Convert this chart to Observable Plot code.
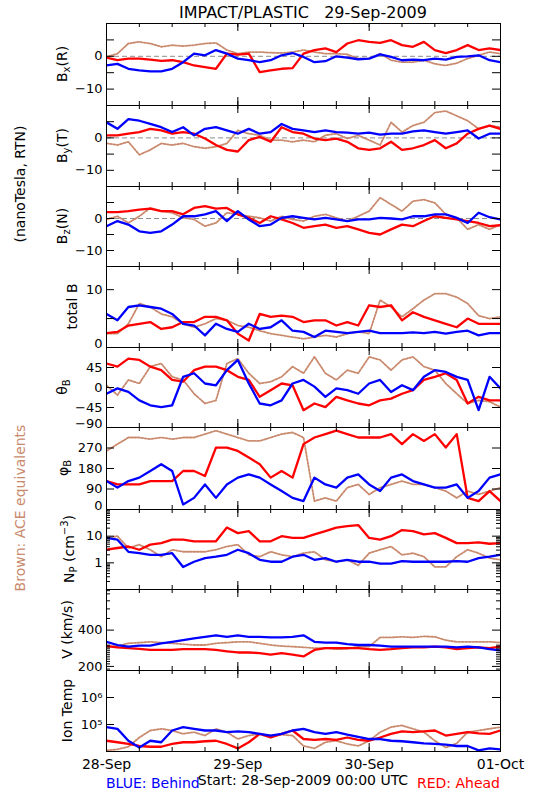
<!DOCTYPE html>
<html><head><meta charset="utf-8">
<script src="https://cdn.jsdelivr.net/npm/d3@7"></script>
<script src="https://cdn.jsdelivr.net/npm/@observablehq/plot@0.6"></script>
<style>
body{margin:0;background:#fff;}
#chart{position:relative;width:550px;height:800px;font-family:"DejaVu Sans",sans-serif;background:#fff;overflow:hidden;}
#chart .pnl{position:absolute;left:0;}
#overlay{position:absolute;left:0;top:0;pointer-events:none;}
</style>
</head><body><div id="chart"></div>
<script>
// ---- time grid (hours since 28-Sep-2009 00:00 UTC) ----
const hours = [0,2,4,6,8,10,12,14,16,18,20,22,24,26,28,30,32,34,36,38,40,42,44,46,48,50,52,54,56,58,60,62,64,66,68,70,72];

// ---- Bx (R), nT ----
const bxBlue  = [-2.8,-2.3,-3.8,-4.3,-4.6,-4.6,-3.8,-1.8,0.8,0.3,1.9,0.8,-0.7,-1.2,-1.8,-1.2,0.3,1.0,-0.2,-1.8,-1.5,0,-0.4,-0.9,-0.7,0.6,-0.2,-1.2,-1.0,-1.2,-0.7,-1.0,-0.2,0,0.3,-1.2,-1.8];
const bxRed   = [-0.4,-1.2,-0.7,-0.7,-1.0,-1.4,-1.2,-1.8,-2.8,-3.3,-3.8,0.8,0.5,0.8,-4.8,-4.3,-3.8,-3.6,0.8,1.9,2.4,1.3,3.9,4.9,4.4,4.1,4.9,3.4,2.9,4.4,1.9,1.0,1.9,3.4,1.9,2.4,1.9];
const bxBrown = [-0.2,0.8,3.9,4.4,3.9,2.9,3.4,3.1,3.4,3.9,4.1,1.9,0.8,1.3,1.3,1.1,1.0,1.3,1.9,1.3,0.8,0.8,0.6,-0.7,-0.7,0.8,-1.2,-1.8,-1.8,-1.2,-2.3,-2.8,-2.1,-0.7,0.3,1.3,0.8];
// ---- By (T) ----
const byBlue  = [4.8,2.8,5.8,5.3,4.3,3.3,1.8,3.3,0.8,2.8,3.3,2.3,1.3,2.8,1.3,1.8,4.3,2.8,2.3,1.8,2.3,1.8,1.6,1.3,1.6,1.0,1.3,1.3,2.0,2.3,1.8,1.3,1.8,2.3,-0.2,1.3,1.3];
const byRed   = [0.8,0.8,1.3,1.8,2.8,2.3,1.3,1.8,1.3,-0.2,-2.2,-3.7,-4.2,-0.7,0.3,-1.2,3.3,1.8,1.3,-0.2,-0.7,-0.2,-1.2,-3.2,-3.7,-3.2,-1.2,-3.7,-3.2,-2.2,-0.7,-3.2,-1.7,1.3,2.8,3.8,2.8];
const byBrown = [-1.7,-2.2,-1.2,-5.2,-3.7,-1.7,-2.2,-1.7,-2.7,-3.2,-2.7,-1.7,2.3,1.3,0.8,-0.7,-0.7,-1.2,-0.7,-1.2,0.8,1.3,-0.2,0.8,-0.7,-2.2,4.8,1.8,3.8,4.8,7.8,8.3,6.8,5.3,2.8,3.8,3.3];
// ---- Bz (N) ----
const bzBlue  = [-2.4,-0.8,-1.9,-4.0,-4.5,-4.0,-1.9,0.7,0.7,1.3,2.3,-0.8,2.3,-0.3,-2.4,-1.9,0.2,0.7,0.2,-0.3,0.2,-0.3,-0.8,-0.3,-0.3,0.2,0,-0.3,0.7,0.7,1.3,1.3,0.2,-1.4,1.8,0.4,-0.3];
const bzRed   = [2.0,2.0,2.3,2.8,3.1,2.3,2.3,1.3,3.3,3.9,3.1,3.3,1.3,0.2,-1.4,0.7,-0.3,-1.4,-2.9,-2.4,-1.9,-2.9,-2.4,-3.4,-4.5,-5.0,-3.4,-1.9,-2.4,-0.8,0.7,0.2,-0.3,-0.8,-1.4,-2.4,-2.1];
const bzBrown = [-0.3,0.7,-1.4,0.7,3.3,2.3,1.8,0.2,-0.3,-2.4,-1.4,1.8,1.3,0.7,0.2,-0.8,0.7,-0.3,-0.8,0.7,1.3,0.2,-0.8,0.7,2.3,6.5,4.4,2.3,5.4,5.9,4.9,1.3,0.2,-3.4,-1.9,-3.4,-1.9];
// ---- total B ----
const btBlue  = [5.8,4.7,7.0,7.3,7.0,6.7,5.8,4.1,3.8,2.1,4.1,3.2,2.7,4.1,3.2,3.5,4.7,2.9,2.7,1.8,2.9,2.7,2.5,2.7,2.9,2.5,2.5,2.5,2.6,2.5,2.7,2.4,2.7,2.9,2.1,2.5,2.5];
const btRed   = [2.5,2.7,3.8,4.1,4.4,3.2,3.5,4.4,4.4,5.3,5.3,4.7,2.4,1.2,5.8,5.3,5.5,5.3,4.4,4.7,4.7,3.8,4.4,3.8,7.3,7.0,7.3,4.7,6.1,5.3,4.7,4.1,3.5,5.0,4.1,4.1,4.1];
const btBrown = [2.4,2.4,4.1,7.6,7.0,5.8,5.3,4.1,3.5,4.1,5.0,4.7,3.8,3.5,2.9,2.4,2.1,1.8,1.5,1.8,2.1,1.8,2.4,2.7,2.4,8.2,7.0,5.3,6.7,8.2,9.3,9.3,8.7,7.6,5.5,5.0,5.3];
// ---- theta B (deg) ----
const thBlue  = [-14,-2,-10,-29,-40,-44,-40,24,32,9,5,39,62,9,-36,-40,-29,9,17,2,-21,-2,-6,-14,9,17,-10,5,-6,24,39,35,24,17,-51,24,-2];
const thRed   = [54,47,65,62,47,39,17,13,39,47,47,39,24,17,-21,-6,9,5,-51,-36,-44,-21,-29,-36,-40,-29,-25,-14,-6,17,24,32,17,-36,-21,-29,-29];
const thBrown = [5,-17,17,9,47,54,24,17,-14,-36,-29,54,65,32,9,13,24,47,32,69,32,17,39,32,69,62,39,62,69,47,39,9,-14,-36,-29,-32,-44];
// ---- phi B (deg) ----
const phBlue  = [125,96,125,140,169,199,169,22,51,110,51,110,140,154,140,110,81,51,37,140,110,96,140,154,110,81,140,154,125,110,96,96,110,51,81,140,154];
const phRed   = [125,110,110,110,125,125,125,169,169,147,272,272,257,228,199,140,169,140,287,316,331,346,331,316,316,316,331,287,331,301,331,272,331,51,37,81,37];
const phBrown = [257,287,316,316,309,316,309,316,316,331,346,331,316,301,301,316,331,338,316,37,51,37,96,110,66,96,110,125,110,110,96,81,51,81,66,81,96];
// ---- proton density (cm^-3) ----
const npBlue  = [8.6,7.4,2.6,2.3,2.0,2.0,2.3,0.7,1.1,1.5,1.7,2.0,3.1,2.3,1.3,1.1,1.1,1.7,2.0,1.3,1.5,1.1,1.3,1.1,1.1,0.94,0.94,1.16,1.1,1.1,1.1,1.1,1.16,1.1,1.5,1.7,2.0];
const npRed   = [3.1,3.6,4.1,3.1,4.8,5.5,7.4,7.4,6.4,6.4,6.4,21,13,15.5,6.4,6.4,10,8.6,8.6,11.6,15.5,21,24,26,8.6,7.4,10,17,15.5,11.6,13,8.6,5.5,5.5,5.9,5.2,5.5];
const npBrown = [8.6,10,3.6,4.8,3.1,1.7,3.1,2.6,2.6,2.6,3.1,4.1,4.8,2.0,1.7,2.6,2.0,1.7,2.3,2.6,1.3,1.1,1.3,0.8,2.3,3.1,4.1,2.0,2.3,1.7,0.7,0.7,1.7,3.1,2.3,1.5,1.3];
// ---- speed (km/s) ----
const vBlue   = [320,301,292,297,297,311,320,330,341,352,362,352,362,352,352,348,348,352,362,320,315,315,306,301,301,297,292,292,292,292,292,292,288,292,288,278,271];
const vRed    = [295,288,284,280,274,274,274,278,278,278,274,267,261,261,258,250,258,250,242,274,284,284,284,284,278,274,278,284,288,288,292,288,278,284,288,284,292];
const vBrown  = [292,295,311,315,320,315,311,306,301,301,311,315,320,320,311,301,295,292,288,284,284,278,280,292,292,348,348,352,348,355,352,330,320,320,320,320,315];
// ---- ion temperature (K) ----
const tBlue   = [8e4,6.9e4,2.5e4,1.4e4,2.5e4,2.2e4,6e4,8e4,6.9e4,6e4,6e4,5.2e4,5.6e4,5.2e4,4.5e4,3.9e4,4.5e4,6e4,6.9e4,5.2e4,4.5e4,5.2e4,4.2e4,3.5e4,2.9e4,2.9e4,2.5e4,2.4e4,2.2e4,2.0e4,1.9e4,1.8e4,1.6e4,1.6e4,1.1e4,1.3e4,1.2e4];
const tRed    = [2.5e4,2.2e4,1.9e4,1.6e4,1.5e4,1.5e4,1.9e4,2.2e4,2.2e4,2.4e4,2.5e4,1.9e4,1.3e4,2.2e4,4.5e4,3.3e4,4.5e4,6e4,2.9e4,2.7e4,2.9e4,2.7e4,3.3e4,2.7e4,2.5e4,3.3e4,4.5e4,5.6e4,5.2e4,5.6e4,6e4,3.9e4,4.5e4,5.2e4,4.7e4,4.5e4,6e4];
const tBrown  = [1.1e4,1.2e4,1.5e4,3.3e4,6e4,6.9e4,6e4,4.5e4,5.2e4,3.9e4,6.9e4,5.2e4,2.9e4,3.9e4,4.5e4,3.9e4,4.2e4,3.9e4,1.6e4,1.3e4,2.2e4,2.5e4,1.9e4,1.6e4,2.5e4,5.2e4,8e4,9.2e4,6.9e4,5.2e4,2.5e4,1.4e4,2.0e4,5.2e4,6e4,6.9e4,8e4];

// ---- axis tick values ----
const bTicks = [-15,-10,-5,0,5,10], bLabels = [-10,0];
const btTicks = [0,5,10,14], btLabels = [10], btLow = [0];
const thTicks = [-90,-45,0,45,90], thLabels = [-45,0,45], thLow = [-90];
const phTicks = [0,90,180,270,360], phLabels = [90,180,270], phLow = [0];
const npTicks = [0.1,1,10,100], npMinor = [0.2,0.3,0.4,0.5,0.6,0.7,0.8,0.9,2,3,4,5,6,7,8,9,20,30,40,50,60,70,80,90], npLabels = [1,10];
const vTicks = [200,400], vMinor = [190,210,220,230,240,250,260,270,280,290,300,500,600,700,800,850], vLabels = [200,400];
const tTicks = [1e4,1e5,1e6,1e7], tLabels = [1e5,1e6];
const dayLabels = ["28-Sep","29-Sep","30-Sep","01-Oct"];

// ---- drawing ----
const BLUE = "#0000ff", RED = "#ff0000", BROWN = "#c98a6e";
const W = 550, ML = 106, MR = 50, FW = W - ML - MR;
const start = Date.UTC(2009, 8, 28);
const times = hours.map(h => new Date(start + h * 3600e3));
const xDomain = [new Date(start), new Date(start + 72 * 3600e3)];
const sixHour = d3.utcHour.every(6).range(xDomain[0], new Date(+xDomain[1] + 1));
const days = d3.utcDay.range(xDomain[0], new Date(+xDomain[1] + 1));
const rows = vals => vals.map((v, i) => ({t: times[i], v}));
const linFmt = d => (d < 0 ? "\u2212" : "") + Math.abs(d);
const supFmt = d => "10" + {5: "\u2075", 6: "\u2076"}[Math.round(Math.log10(d))];

const edges = [23,105,186,266,347,427,509,589,670,751];
const panels = [
  {type:"linear", domain:[-15,10], zero:true, s:[bxBrown,bxRed,bxBlue], ticks:bTicks, labels:bLabels, fmt:linFmt},
  {type:"linear", domain:[-15,10], zero:true, s:[byBrown,byRed,byBlue], ticks:bTicks, labels:bLabels, fmt:linFmt},
  {type:"linear", domain:[-15,10], zero:true, s:[bzBrown,bzRed,bzBlue], ticks:bTicks, labels:bLabels, fmt:linFmt},
  {type:"linear", domain:[0,14], s:[btBrown,btRed,btBlue], ticks:btTicks, labels:btLabels, low:btLow, fmt:linFmt},
  {type:"linear", domain:[-90,90], s:[thBrown,thRed,thBlue], ticks:thTicks, labels:thLabels, low:thLow, fmt:linFmt},
  {type:"linear", domain:[0,360], s:[phBrown,phRed,phBlue], ticks:phTicks, labels:phLabels, low:phLow, fmt:linFmt},
  {type:"log", domain:[0.1,100], s:[npBrown,npRed,npBlue], ticks:npTicks, minor:npMinor, labels:npLabels, fmt:d=>String(d)},
  {type:"log", domain:[185,869], s:[vBrown,vRed,vBlue], ticks:vTicks, minor:vMinor, labels:vLabels, fmt:d=>String(d)},
  {type:"log", domain:[1e4,1e7], s:[tBrown,tRed,tBlue], ticks:tTicks, labels:tLabels, fmt:supFmt}
];

const chart = document.getElementById("chart");
panels.forEach((p, k) => {
  const top = edges[k], h = edges[k+1] - edges[k];
  const last = k === panels.length - 1;
  const mb = last ? 40 : 1;
  const marks = [];
  if (p.zero) marks.push(Plot.ruleY([0], {stroke:"#8c8c8c", strokeDasharray:"5,3"}));
  const cols = [BROWN, RED, BLUE];
  p.s.forEach((vals, i) => marks.push(Plot.line(rows(vals), {
    x:"t", y:"v", stroke: cols[i], strokeWidth: i === 0 ? 1.8 : 2.3,
    strokeDasharray: i === 0 ? "2,1.5" : null, clip: true
  })));
  marks.push(Plot.tickY(p.ticks, {y:d=>d, insetRight: FW-8, stroke:"black"}));
  marks.push(Plot.tickY(p.ticks, {y:d=>d, insetLeft: FW-8, stroke:"black"}));
  if (p.minor) {
    marks.push(Plot.tickY(p.minor, {y:d=>d, insetRight: FW-4, stroke:"black"}));
    marks.push(Plot.tickY(p.minor, {y:d=>d, insetLeft: FW-4, stroke:"black"}));
  }
  marks.push(Plot.tickX(sixHour, {x:d=>d, insetBottom: h-4, stroke:"black"}));
  marks.push(Plot.tickX(sixHour, {x:d=>d, insetTop: h-4, stroke:"black"}));
  marks.push(Plot.tickX(days, {x:d=>d, insetBottom: h-8, stroke:"black"}));
  marks.push(Plot.tickX(days, {x:d=>d, insetTop: h-8, stroke:"black"}));
  marks.push(Plot.frame({stroke:"black"}));
  marks.push(Plot.axisY({ticks: p.labels, tickSize:0, tickPadding:4, tickFormat:p.fmt, label:null, fontSize:13}));
  if (p.low) marks.push(Plot.axisY({ticks: p.low, tickSize:0, tickPadding:4, tickFormat:p.fmt, label:null, lineAnchor:"bottom", fontSize:13}));
  if (last) marks.push(Plot.axisX({ticks: days, tickSize:0, tickPadding:8, tickFormat:(d,i)=>dayLabels[i], label:null, fontSize:14}));
  const svg = Plot.plot({
    width: W, height: h + 1 + mb,
    marginLeft: ML, marginRight: MR, marginTop: 1, marginBottom: mb,
    style: {background:"none", fontFamily:"DejaVu Sans", fontSize:"14px", color:"black", overflow:"visible"},
    x: {type:"utc", domain: xDomain, axis: null},
    y: {type: p.type, domain: p.domain, axis: null},
    marks
  });
  const wrap = document.createElement("div");
  wrap.className = "pnl";
  wrap.style.top = (top - 1) + "px";
  wrap.appendChild(svg);
  chart.appendChild(wrap);
});

// ---- text overlay ----
const ns = "http://www.w3.org/2000/svg";
const ov = document.createElementNS(ns, "svg");
ov.setAttribute("id", "overlay");
ov.setAttribute("width", W); ov.setAttribute("height", 800);
const mid = k => (edges[k] + edges[k+1]) / 2;
const sub = s => `<tspan dy="4" font-size="10">${s}</tspan><tspan dy="-4">`;
const rot = (x, y, html, fill) => `<text transform="translate(${x},${y}) rotate(-90)" text-anchor="middle" dominant-baseline="central" fill="${fill||"black"}">${html}</text>`;
ov.innerHTML = `
<g font-family="DejaVu Sans" font-size="14">
<text x="303" y="18" text-anchor="middle" font-size="16" style="white-space:pre">IMPACT/PLASTIC   29-Sep-2009</text>
${rot(20, 184, "(nanoTesla, RTN)")}
${rot(20, 508, "Brown: ACE equivalents", BROWN)}
${rot(62, mid(0), "B" + sub("x") + "(R)</tspan>")}
${rot(62, mid(1), "B" + sub("y") + "(T)</tspan>")}
${rot(62, mid(2), "B" + sub("z") + "(N)</tspan>")}
${rot(72, mid(3), "total B")}
${rot(62, mid(4), "\u03b8" + sub("B") + "</tspan>")}
${rot(63, mid(5), "\u03c6" + sub("B") + "</tspan>")}
${rot(69, mid(6), "N" + sub("P") + ` (cm<tspan dy="-5" font-size="10">\u22123</tspan><tspan dy="5">)</tspan></tspan>`)}
${rot(67, mid(7), "V (km/s)")}
${rot(67, mid(8), "Ion Temp")}
<text x="106" y="788" fill="${BLUE}">BLUE: Behind</text>
<text x="303" y="785" text-anchor="middle">Start: 28-Sep-2009 00:00 UTC</text>
<text x="500" y="788" text-anchor="end" fill="${RED}">RED: Ahead</text>
</g>`;
chart.appendChild(ov);
</script>
</body></html>
